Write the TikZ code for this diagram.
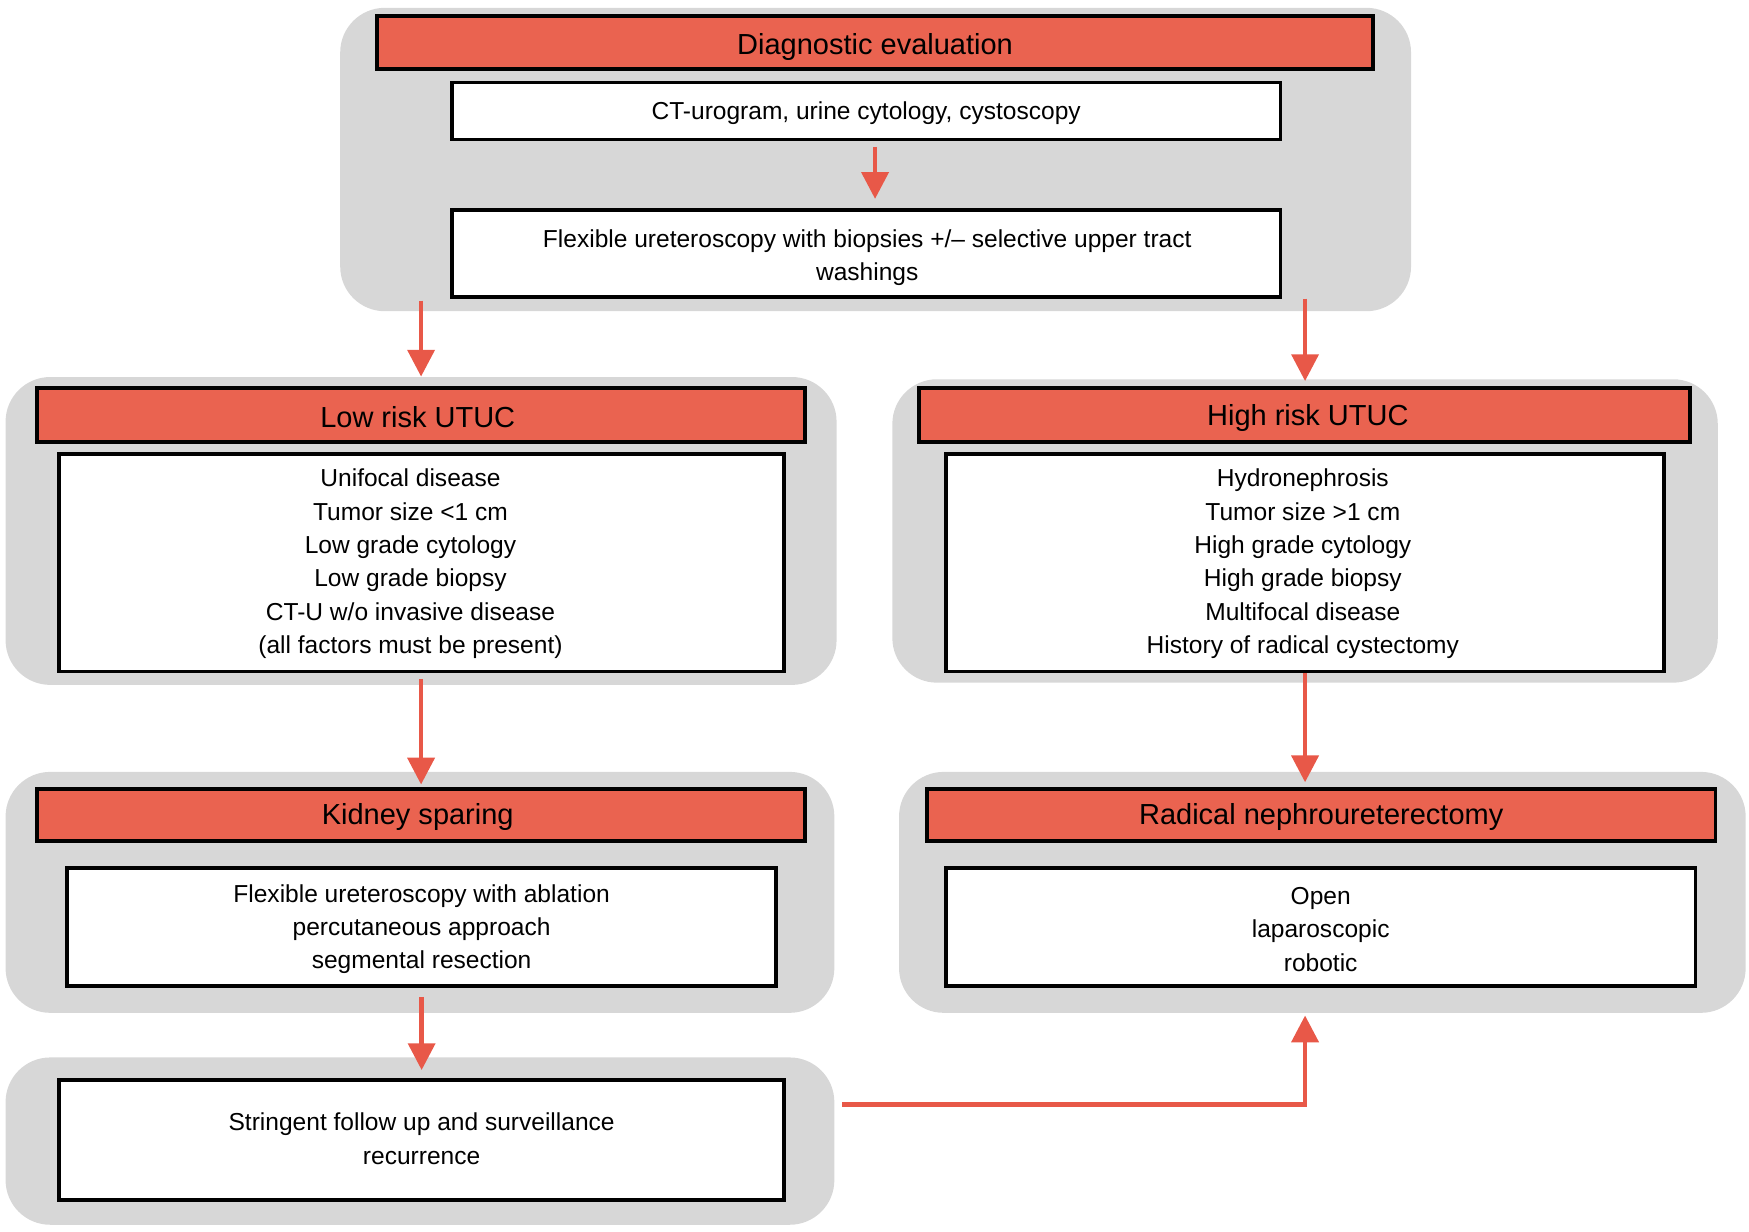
\documentclass[tikz,border=0pt]{standalone}
\usepackage{fontspec}
\setmainfont{Liberation Sans}
\usetikzlibrary{fit,arrows.meta}
\definecolor{hdrred}{RGB}{234,99,80}
\definecolor{arrred}{RGB}{232,88,72}
\definecolor{grpgray}{RGB}{215,215,215}
\tikzset{
  grp/.style={fill=grpgray, draw=none, rounded corners=20pt, inner sep=0pt},
  hdr/.style={fill=hdrred, draw=black, line width=1.7pt, inner sep=0pt},
  body/.style={fill=white, draw=black, line width=1.7pt, inner sep=0pt},
  hdrtxt/.style={inner sep=0pt, font=\fontsize{13}{15}\selectfont, text=black},
  bodytxt/.style={inner sep=0pt, align=center, font=\fontsize{11}{15}\selectfont, text=black},
  arr/.style={draw=arrred, line width=2pt, -{Triangle[width=12pt,length=12pt]}},
}
\begin{document}
\begin{tikzpicture}[x=0.5pt,y=-0.5pt]
\useasboundingbox (0,0) rectangle (1568,1104);
% groups
\node[grp, fit={(305,7) (1265,279)}] (diaggrp) {};
\node[grp, fit={(5,338) (750,614)}] (lowgrp) {};
\node[grp, fit={(800,340) (1540,612)}] (highgrp) {};
\node[grp, fit={(5,692) (748,908)}] (kidgrp) {};
\node[grp, fit={(806,692) (1565,908)}] (radgrp) {};
\node[grp, fit={(5,948) (748,1098)}] (folgrp) {};
% headers
\node[hdr, fit={(338,14) (1231,62)}] (diaghead) {};
\node[hdr, fit={(33,348) (722,396)}] (lowhead) {};
\node[hdr, fit={(824,348) (1515,396)}] (highhead) {};
\node[hdr, fit={(33,707) (722,754)}] (kidhead) {};
\node[hdr, fit={(831,707) (1538,754)}] (radhead) {};
\node[hdrtxt] (diagt) at ([yshift=-2pt]diaghead.center) {Diagnostic evaluation};
\node[hdrtxt] (lowt) at ([xshift=-1.5pt,yshift=-1pt]lowhead.center) {Low risk UTUC};
\node[hdrtxt] (hight) at ([xshift=1.5pt,yshift=-1.5pt]highhead.center) {High risk UTUC};
\node[hdrtxt] (kidt) at ([xshift=-1.5pt,yshift=-1pt]kidhead.center) {Kidney sparing};
\node[hdrtxt] (radt) at ([yshift=-1pt]radhead.center) {Radical nephroureterectomy};
% bodies
\node[body, fit={(405,74) (1148,125)}] (ct) {};
\node[body, fit={(405,188) (1148,266)}] (flex) {};
\node[body, fit={(53,407) (703,602)}] (lowbox) {};
\node[body, fit={(848,407) (1492,602)}] (highbox) {};
\node[body, fit={(60,778) (696,884)}] (kidbox) {};
\node[body, fit={(848,778) (1520,884)}] (radbox) {};
\node[body, fit={(53,968) (703,1076)}] (folbox) {};
\node[bodytxt] (ctt) at ([yshift=-1pt]ct.center) {CT-urogram, urine cytology, cystoscopy};
\node[bodytxt] (flext) at ([xshift=0.5pt,yshift=-2pt]flex.center) {Flexible ureteroscopy with biopsies +/– selective upper tract\\washings};
\node[bodytxt] (lowt2) at ([xshift=-5pt,yshift=-0.5pt]lowbox.center) {Unifocal disease\\Tumor size <1 cm\\Low grade cytology\\Low grade biopsy\\CT-U w/o invasive disease\\(all factors must be present)};
\node[bodytxt] (hight2) at ([xshift=-1pt,yshift=-0.5pt]highbox.center) {Hydronephrosis\\Tumor size >1 cm\\High grade cytology\\High grade biopsy\\Multifocal disease\\History of radical cystectomy};
\node[bodytxt] (kidt2) at ([yshift=-1pt]kidbox.center) {Flexible ureteroscopy with ablation\\percutaneous approach\\segmental resection};
\node[bodytxt] (radt2) at ([yshift=-1pt]radbox.center) {Open\\laparoscopic\\robotic};
\node[bodytxt] (folt) at ([yshift=0.5pt]folbox.center) {Stringent follow up and surveillance\\recurrence};
% arrows
\draw[arr] ([xshift=4pt,yshift=-2.5pt]ct.south) -- ([xshift=4pt,yshift=4pt]flex.north);
\draw[arr] ([yshift=34pt]lowgrp.north) -- (lowgrp.north);
\draw[arr] (flex.south -| highgrp.north) -- ([yshift=-1pt]highgrp.north);
\draw[arr] ([yshift=-2.5pt]lowbox.south -| kidhead.north) -- ([yshift=1pt]kidhead.north);
\draw[arr] (highbox.south) -- ([yshift=2pt]highbox.south |- radhead.north);
\draw[arr] ([yshift=-4pt]kidbox.south -| folbox.north) -- ([yshift=3.5pt]folbox.north);
\coordinate (fstart) at (755,990);
\draw[arr] (fstart) -| ([yshift=-1pt]highbox.south |- radgrp.south);
\end{tikzpicture}
\end{document}
